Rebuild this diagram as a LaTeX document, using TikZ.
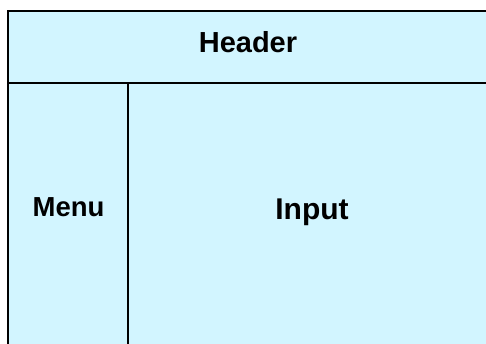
\documentclass[tikz,border=0pt]{standalone}
\usepackage{fontspec}
\setmainfont{Liberation Sans}
\usetikzlibrary{positioning}
\definecolor{paneblue}{RGB}{210,245,255}

\begin{document}
\begin{tikzpicture}[x=1pt, y=-1pt]
	% Define styles
	\tikzset{
		pane/.style={draw=black, line width=2.2pt, fill=paneblue},
		divider/.style={draw=black, line width=2.2pt},
		title/.style={inner sep=0pt, anchor=base, font=\bfseries}
	}
	\useasboundingbox (0,0) rectangle (486,343);
	
	% Panes
	\path[pane] (8,11) rectangle (500,360);
	\coordinate (hl) at (8,83);
	\coordinate (hr) at (500,83);
	\coordinate (mt) at (128,83);
	\coordinate (mb) at (128,360);
	\path[divider] (hl) -- (hr);
	\path[divider] (mt) -- (mb);
	
	% Labels
	\node[title, font=\bfseries\fontsize{29}{32}\selectfont] (header) at (248,52.3) {Header};
	\node[title, font=\bfseries\fontsize{27.5}{31}\selectfont] (menu) at (68.5,216.7) {Menu};
	\node[title, font=\bfseries\fontsize{30}{33}\selectfont] (input) at (312,219.8) {Input};
\end{tikzpicture}
\end{document}
